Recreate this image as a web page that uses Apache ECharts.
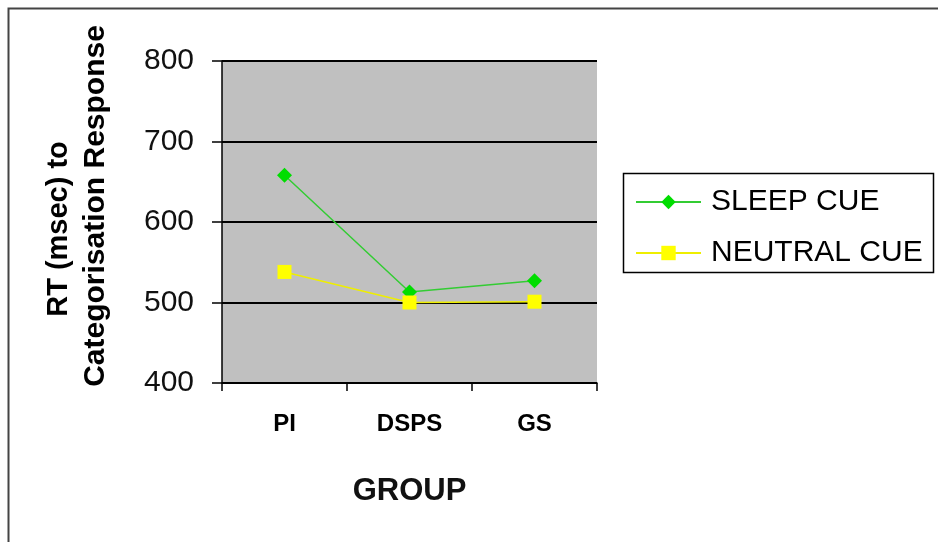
<!DOCTYPE html>
<html>
<head>
<meta charset="utf-8">
<script src="https://cdn.jsdelivr.net/npm/echarts@6/dist/echarts.min.js"></script>
<style>
html,body{margin:0;padding:0;background:#fff;}
#chart{width:938px;height:542px;}
</style>
</head>
<body>
<div id="chart"></div>
<script>
var categories = ['PI', 'DSPS', 'GS'];
var sleepCue = [658, 513, 527];
var neutralCue = [538, 500, 501];
var yTicks = { min: 400, max: 800, interval: 100 };

var chart = echarts.init(document.getElementById('chart'), null, { renderer: 'canvas' });
var font = '"Liberation Sans", Arial, sans-serif';
chart.setOption({
  animation: false,
  backgroundColor: '#ffffff',
  grid: { left: 222, right: 341, top: 61, bottom: 159, show: true, backgroundColor: '#c0c0c0', borderWidth: 0 },
  graphic: [
    { type: 'rect', shape: { x: 8.5, y: 8.5, width: 1000, height: 600 }, style: { fill: 'none', stroke: '#444', lineWidth: 2 }, z: 0, silent: true },
    { type: 'rect', shape: { x: 623.5, y: 173.5, width: 310, height: 99 }, style: { fill: '#fff', stroke: '#000', lineWidth: 1.5 }, z: 1, silent: true },
    { type: 'text', x: 59, y: 229, rotation: Math.PI / 2, style: { text: 'RT (msec) to', font: 'bold 29px ' + font, fill: '#000', align: 'center', verticalAlign: 'middle' } },
    { type: 'text', x: 96, y: 206, rotation: Math.PI / 2, style: { text: 'Categorisation Response', font: 'bold 30px ' + font, fill: '#000', align: 'center', verticalAlign: 'middle' } }
  ],
  legend: {
    orient: 'vertical', left: 630, top: 182, itemGap: 21, itemWidth: 65, itemHeight: 18, padding: 5,
    textStyle: { fontFamily: font, fontSize: 30, lineHeight: 30, color: '#000', padding: [0, 0, 0, 5] },
    data: ['SLEEP CUE', 'NEUTRAL CUE'],
    z: 5
  },
  xAxis: {
    type: 'category', data: categories, boundaryGap: true,
    name: 'GROUP', nameLocation: 'middle', nameGap: 93,
    nameTextStyle: { fontFamily: font, fontSize: 31, fontWeight: 'bold', color: '#111' },
    axisLine: { lineStyle: { color: '#000', width: 1.5 } },
    axisTick: { show: true, length: 8, lineStyle: { color: '#000', width: 1.5 } },
    axisLabel: { fontFamily: font, fontSize: 24, fontWeight: 'bold', color: '#000', margin: 29 },
    splitLine: { show: false }
  },
  yAxis: {
    type: 'value', min: yTicks.min, max: yTicks.max, interval: yTicks.interval,
    axisLine: { show: true, lineStyle: { color: '#000', width: 1.5 } },
    axisTick: { show: true, length: 10, lineStyle: { color: '#000', width: 1.5 } },
    axisLabel: { fontFamily: font, fontSize: 30, color: '#111', margin: 28 },
    splitLine: { show: true, lineStyle: { color: '#000', width: 2 } }
  },
  series: [
    {
      name: 'SLEEP CUE', type: 'line', data: sleepCue,
      symbol: 'diamond', symbolSize: 15,
      lineStyle: { color: '#33cc33', width: 1.5 },
      itemStyle: { color: '#00dd00' },
      z: 3
    },
    {
      name: 'NEUTRAL CUE', type: 'line', data: neutralCue,
      symbol: 'rect', symbolSize: 14,
      lineStyle: { color: '#eeee00', width: 1.5 },
      itemStyle: { color: '#ffff00' },
      z: 4
    }
  ]
});
</script>
</body>
</html>
